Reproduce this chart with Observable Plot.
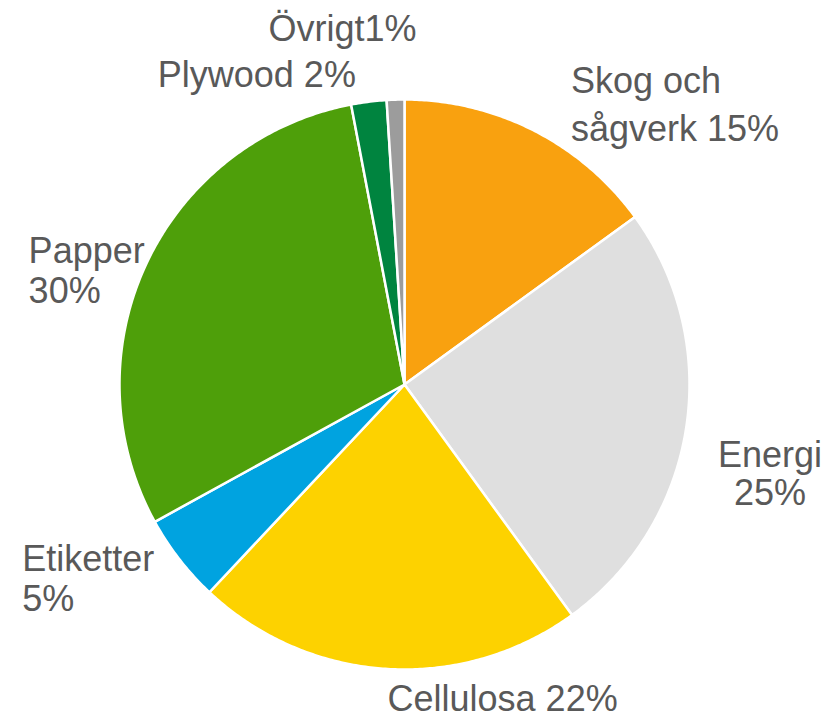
<!DOCTYPE html>
<html>
<head>
<meta charset="utf-8">
<script src="https://cdn.jsdelivr.net/npm/d3@7"></script>
<script src="https://cdn.jsdelivr.net/npm/@observablehq/plot@0.6"></script>
<style>
  html, body { margin: 0; padding: 0; background: #fff; }
  #chart { width: 840px; height: 718px; }
</style>
</head>
<body>
<div id="chart"></div>
<script>
// ---- data ----
const categories = ["Skog och sågverk", "Energi", "Cellulosa", "Etiketter", "Papper", "Plywood", "Övrigt"];
const shares = [15, 25, 22, 5, 30, 2, 1];
const labels = ["Skog och\nsågverk 15%", "Energi\n25%", "Cellulosa 22%", "Etiketter\n5%", "Papper\n30%", "Plywood 2%", "Övrigt1%"];
const colors = ["#F9A10F", "#DFDFDF", "#FDD200", "#00A3E0", "#4E9F0A", "#00843F", "#9C9C9C"];

// ---- layout (pixels) ----
const W = 840, H = 718;
const cx = 404, cy = 384, R = 285;
// label offsets (px) from the rim point at each slice's mid angle
const labelLayout = [
  {dx: 37, dy: -29, anchor: "start", lh: 1.33},
  {dx: 84, dy: 45, anchor: "middle", lh: 1.05},
  {dx: 116, dy: 29, anchor: "middle", lh: 1.1},
  {dx: -157, dy: 19, anchor: "start", lh: 1.12},
  {dx: -118, dy: 7, anchor: "start", lh: 1.13},
  {dx: -211, dy: -27, anchor: "start", lh: 1.1},
  {dx: -127, dy: -71, anchor: "start", lh: 1.1}
];

// ---- build slices from data with d3.pie ----
const pie = d3.pie().sort(null).value(d => d.share).startAngle(0).endAngle(2 * Math.PI);
const rows = categories.map((c, i) => ({category: c, share: shares[i], label: labels[i], i}));
const arcs = pie(rows);

const polyPts = [];
arcs.forEach(a => {
  const c = a.data.category;
  polyPts.push({category: c, X: 0, Y: 0});
  const steps = Math.max(2, Math.ceil((a.endAngle - a.startAngle) / (Math.PI / 360)));
  for (let k = 0; k <= steps; k++) {
    const t = a.startAngle + (a.endAngle - a.startAngle) * k / steps;
    polyPts.push({category: c, X: Math.sin(t), Y: Math.cos(t)});
  }
  polyPts.push({category: c, X: 0, Y: 0});
});

const labelPts = arcs.map(a => {
  const m = (a.startAngle + a.endAngle) / 2;
  return {...a.data, X: Math.sin(m), Y: Math.cos(m)};
});

const font = "'Liberation Sans', Arial, Helvetica, sans-serif";

const marks = [
  Plot.line(polyPts, {
    x: "X", y: "Y", z: "category", fill: "category",
    stroke: "white", strokeWidth: 2.5, strokeLinejoin: "round", curve: "linear"
  })
];
labelPts.forEach((d, i) => {
  const L = labelLayout[i];
  marks.push(Plot.text([d], {
    x: "X", y: "Y", text: "label",
    dx: L.dx, dy: L.dy, textAnchor: L.anchor, lineHeight: L.lh,
    fontSize: 36, fill: "#595959", fontFamily: font
  }));
});

const chart = Plot.plot({
  width: W, height: H,
  margin: 0,
  x: {domain: [-cx / R, (W - cx) / R], axis: null},
  y: {domain: [(cy - H) / R, cy / R], axis: null},
  color: {domain: categories, range: colors},
  style: {background: "white", fontFamily: font},
  marks
});
document.getElementById("chart").appendChild(chart);
</script>
</body>
</html>
